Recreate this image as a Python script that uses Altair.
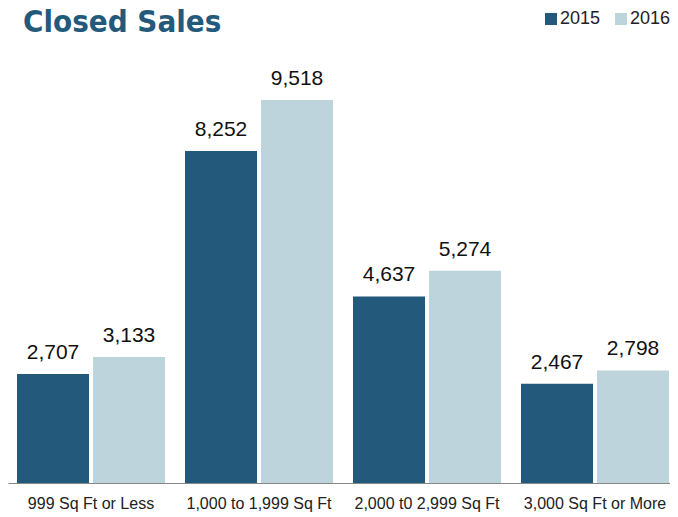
import altair as alt
import pandas as pd

chart_title = ["Closed Sales"]
categories = ["999 Sq Ft or Less", "1,000 to 1,999 Sq Ft", "2,000 t0 2,999 Sq Ft", "3,000 Sq Ft or More"]
years = ["2015", "2016"]
sales_2015 = [2707, 8252, 4637, 2467]
sales_2016 = [3133, 9518, 5274, 2798]

rows = []
for c, a, b in zip(categories, sales_2015, sales_2016):
    rows.append({"category": c, "year": years[0], "sales": a})
    rows.append({"category": c, "year": years[1], "sales": b})
df = pd.DataFrame(rows)

DARK = "#235a7b"
LIGHT = "#bdd4dc"

x = alt.X(
    "category:N", sort=categories, title=None,
    scale=alt.Scale(paddingInner=20 / 168, paddingOuter=0.0298, align=0.9),
    axis=alt.Axis(labelAngle=0, ticks=False, domainColor="#888888", domainWidth=1,
                  labelFontSize=16, labelFont="Liberation Sans", labelColor="#222222",
                  labelPadding=12, grid=False),
)
xo = alt.XOffset("year:N", sort=years, scale=alt.Scale(paddingInner=4 / 76, paddingOuter=0))
y = alt.Y("sales:Q", scale=alt.Scale(domain=[0, 10686], nice=False), axis=None)

bars = alt.Chart(df).mark_bar().encode(
    x=x, xOffset=xo, y=y,
    color=alt.Color(
        "year:N", sort=years,
        scale=alt.Scale(domain=years, range=[DARK, LIGHT]),
        legend=alt.Legend(orient="none", legendX=534, legendY=-43, direction="horizontal",
                          title=None, symbolType="square", symbolSize=144,
                          symbolStrokeWidth=0, labelFontSize=18, labelFont="Liberation Sans",
                          labelColor="#222222", labelOffset=0, columnPadding=11, padding=0),
    ),
)

labels = alt.Chart(df).mark_text(
    dy=-15, baseline="alphabetic", fontSize=21, font="Liberation Sans", color="#111111"
).encode(x=x, xOffset=xo, y=y, text=alt.Text("sales:Q", format=","))

title = alt.Chart(pd.DataFrame({"t": chart_title})).mark_text(
    align="left", baseline="alphabetic", fontSize=31,
    font="'DejaVu Sans Condensed', 'Liberation Sans Narrow', 'Roboto Condensed', Roboto, sans-serif",
    fontWeight="bold", color="#235a7b",
).encode(text="t:N", x=alt.value(15), y=alt.value(-21))

chart = alt.layer(bars, labels, title).properties(
    width=662, height=430,
    autosize=alt.AutoSizeParams(type="none"),
    padding={"left": 0, "top": 45, "right": 0, "bottom": 30},
).configure_view(stroke=None)

chart.save("out.html", embed_options={"renderer": "svg", "actions": False})
